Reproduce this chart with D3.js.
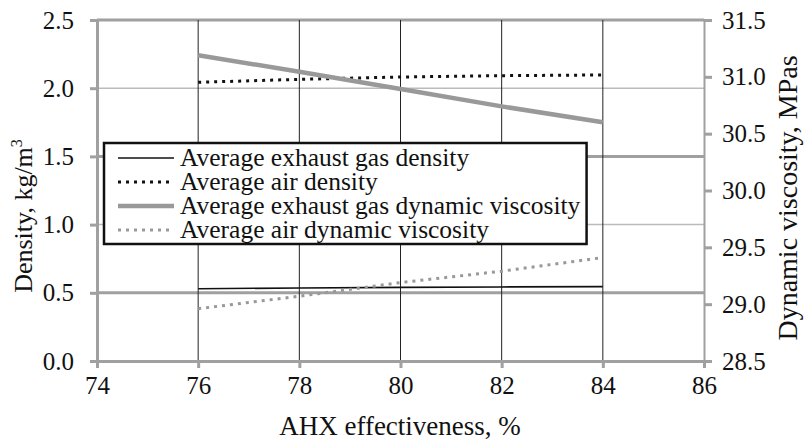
<!DOCTYPE html>
<html><head><meta charset="utf-8">
<script src="https://cdn.jsdelivr.net/npm/d3@7"></script>
<style>body{margin:0;background:#fff}svg{display:block}svg text{font-family:"Liberation Serif","Times New Roman",serif !important;fill:#111}</style>
</head><body><svg id="c" width="805" height="440"></svg>
<script>
const effectiveness = [76, 78, 80, 82, 84];
const exhaustDensity = [0.53, 0.535, 0.54, 0.543, 0.545];
const airDensity = [2.043, 2.065, 2.082, 2.092, 2.097];
const exhaustViscosity = [31.19, 31.045, 30.893, 30.74, 30.60];
const airViscosity = [28.96, 29.07, 29.19, 29.29, 29.41];
const xTicks = [74, 76, 78, 80, 82, 84, 86];
const yLeftTicks = [0, 0.5, 1.0, 1.5, 2.0, 2.5];
const yRightTicks = [28.5, 29.0, 29.5, 30.0, 30.5, 31.0, 31.5];
const legendLabels = ["Average exhaust gas density", "Average air density",
  "Average exhaust gas dynamic viscosity", "Average air dynamic viscosity"];

const SERIF = '"Liberation Serif","Times New Roman",serif';
const svg = d3.select("#c").attr("font-family", SERIF);
const L = 97, R = 704, T = 20, B = 361;
const x = d3.scaleLinear().domain([74, 86]).range([L, R]);
const yL = d3.scaleLinear().domain([0, 2.5]).range([B, T]);
const yR = d3.scaleLinear().domain([28.5, 31.5]).range([B, T]);
const GRAY = "#a0a0a0";

// horizontal gridlines
yLeftTicks.forEach((v, i) => {
  svg.append("line").attr("x1", L).attr("x2", R).attr("y1", yL(v)).attr("y2", yL(v))
    .attr("stroke", i % 2 ? GRAY : "#bbbbbb").attr("stroke-width", i % 2 ? 3 : 1.5);
});
// vertical gridlines
xTicks.slice(1, -1).forEach(v => {
  svg.append("line").attr("x1", x(v)).attr("x2", x(v)).attr("y1", T).attr("y2", B)
    .attr("stroke", "#222").attr("stroke-width", 1);
});

// axes
const axL = svg.append("g").attr("transform", `translate(${L},0)`)
  .call(d3.axisLeft(yL).tickValues(yLeftTicks).tickFormat(d3.format(".1f")).tickSize(7).tickPadding(16));
const axR = svg.append("g").attr("transform", `translate(${R},0)`)
  .call(d3.axisRight(yR).tickValues(yRightTicks).tickFormat(d3.format(".1f")).tickSize(8).tickPadding(10));
const axB = svg.append("g").attr("transform", `translate(0,${B})`)
  .call(d3.axisBottom(x).tickValues(xTicks).tickFormat(d3.format("d")).tickSize(7).tickPadding(8));
[axL, axR, axB].forEach(g => {
  g.attr("font-family", SERIF).attr("font-size", 25);
  g.selectAll(".domain").attr("stroke", GRAY).attr("stroke-width", 3);
  g.selectAll(".tick line").attr("stroke", GRAY).attr("stroke-width", 3);
  g.selectAll("text").attr("fill", "#111").style("font-family", SERIF);
});
axR.select(".domain").attr("stroke-width", 2);

// lines
const mk = (ys, sc) => d3.line().x((d, i) => x(effectiveness[i])).y(d => sc(d))(ys);
const styles = [
  {data: exhaustDensity, sc: yL, stroke: "#111", w: 1.6, dash: null},
  {data: airDensity, sc: yL, stroke: "#111", w: 3, dash: "3,5"},
  {data: exhaustViscosity, sc: yR, stroke: "#999", w: 4.5, dash: null},
  {data: airViscosity, sc: yR, stroke: "#999", w: 3, dash: "3,5"}
];
styles.forEach(s => {
  svg.append("path").attr("d", mk(s.data, s.sc)).attr("fill", "none")
    .attr("stroke", s.stroke).attr("stroke-width", s.w).attr("stroke-dasharray", s.dash);
});

// legend
const lg = svg.append("g");
const box = lg.append("rect").attr("x", 104).attr("y", 143).attr("height", 101)
  .attr("fill", "#fff").attr("stroke", "#111").attr("stroke-width", 2.5);
let maxR = 0;
legendLabels.forEach((t, i) => {
  const cy = 158 + i * 24;
  const s = styles[i];
  lg.append("line").attr("x1", 118).attr("x2", 174).attr("y1", cy).attr("y2", cy)
    .attr("stroke", s.stroke).attr("stroke-width", s.w).attr("stroke-dasharray", s.dash);
  const tx = lg.append("text").attr("x", 180).attr("y", cy + 8).attr("font-size", 25.5).text(t);
  const bb = tx.node().getBBox();
  maxR = Math.max(maxR, bb.x + bb.width);
});
box.attr("width", maxR + 6 - 104);

// axis titles
const yt = svg.append("text").attr("transform", "translate(32,216) rotate(-90)")
  .attr("text-anchor", "middle").attr("font-size", 26);
yt.append("tspan").text("Density, kg/m");
yt.append("tspan").attr("font-size", 16).attr("dy", -10).text("3");
svg.append("text").attr("transform", "translate(797,198) rotate(-90)")
  .attr("text-anchor", "middle").attr("font-size", 28).text("Dynamic viscosity, MPas");
svg.append("text").attr("x", 400).attr("y", 435).attr("text-anchor", "middle")
  .attr("font-size", 27).text("AHX effectiveness, %");
</script></body></html>
